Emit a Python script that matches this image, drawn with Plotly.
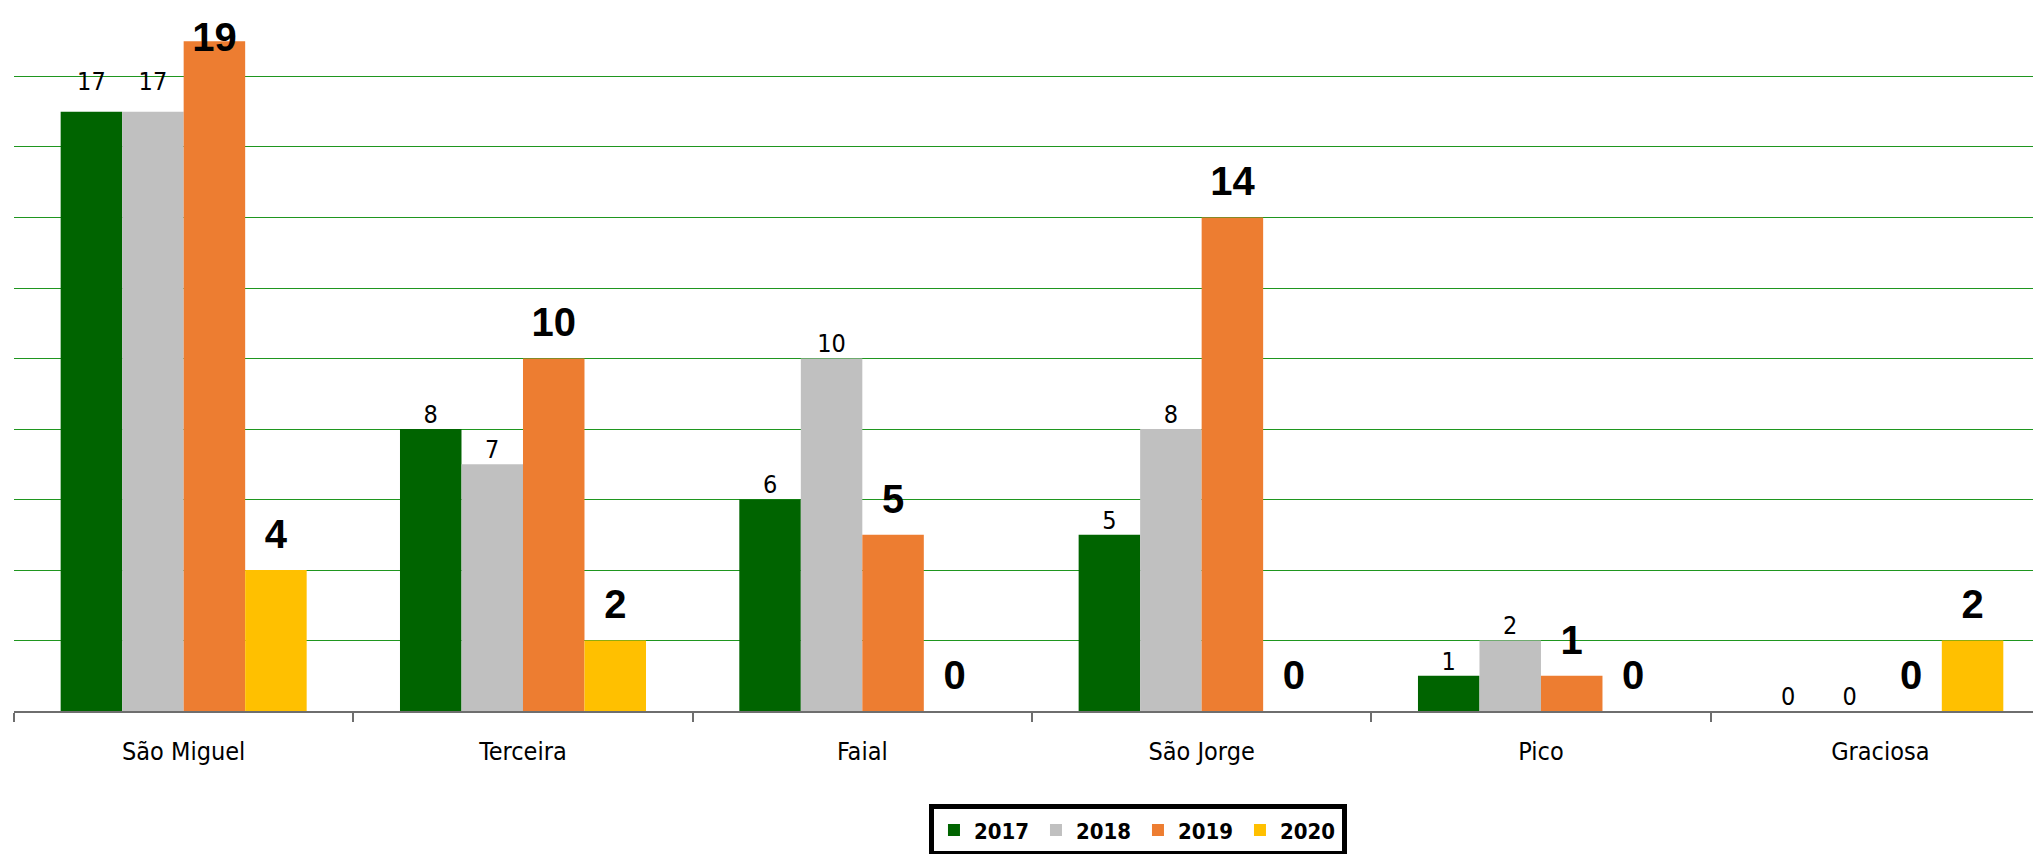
import plotly.graph_objects as go

islands = ["São Miguel", "Terceira", "Faial", "São Jorge", "Pico", "Graciosa"]
years = ["2017", "2018", "2019", "2020"]
v2017 = [17, 8, 6, 5, 1, 0]
v2018 = [17, 7, 10, 8, 2, 0]
v2019 = [19, 10, 5, 14, 1, 0]
v2020 = [4, 2, 0, 0, 0, 2]
values = [v2017, v2018, v2019, v2020]
colors = ["#006400", "#c0c0c0", "#ed7d31", "#ffc000"]
grid_ticks = [2, 4, 6, 8, 10, 12, 14, 16, 18]

NARROW = "DejaVu Sans Condensed, Liberation Sans Narrow, sans-serif"
BOLD = "Liberation Sans, Arial, sans-serif"

fig = go.Figure()
for yr, vals, col in zip(years, values, colors):
    fig.add_trace(go.Bar(
        x=islands, y=vals, name=yr, marker=dict(color=col, line=dict(width=0)),
        offsetgroup=yr, hoverinfo="skip",
    ))

# data labels aligned to bars through grouped scatter traces
label_sizes = {
    "2017": [23, 0, 0, 0, 0, 0],
    "2018": [23, 0, 0, 0, 0, 0],
    "2019": [18] * 6,
    "2020": [18] * 6,
}
for i, (yr, vals) in enumerate(zip(years, values)):
    bold = i >= 2
    pos = ["top center"] * len(vals)
    if yr == "2019":
        pos[0] = "middle center"
    fig.add_trace(go.Scatter(
        x=islands, y=vals, mode="markers+text", text=[str(v) for v in vals],
        textposition=pos, offsetgroup=yr, showlegend=False, hoverinfo="skip",
        marker=dict(size=label_sizes[yr], opacity=0, color="white"),
        textfont=dict(family=BOLD if bold else NARROW, size=40 if bold else 25,
                      color="black", weight="bold" if bold else "normal"),
        cliponaxis=False,
    ))

fig.update_layout(
    width=2033, height=854,
    barmode="group", bargap=0.275, bargroupgap=0,
    scattermode="group", scattergap=0.275,
    plot_bgcolor="white", paper_bgcolor="white",
    margin=dict(l=14, r=0, t=0, b=143, autoexpand=False),
    showlegend=True,
    legend=dict(
        orientation="h", x=0.5567, xanchor="center", y=-0.131, yanchor="top",
        bordercolor="black", borderwidth=5, bgcolor="white",
        font=dict(family=NARROW, size=22, color="black", weight="bold"),
        entrywidth=57, itemclick=False, itemdoubleclick=False,
    ),
    xaxis=dict(
        range=[-0.5, 5.45], showline=True, linecolor="#6e6e6e", linewidth=1.5,
        ticks="outside", tickson="boundaries", ticklen=9, tickcolor="#6e6e6e",
        tickwidth=1.5, showgrid=False, ticklabelstandoff=17,
        tickfont=dict(family=NARROW, size=25, color="black"),
    ),
    yaxis=dict(
        range=[0, 20.17], tickvals=grid_ticks, showticklabels=False,
        showgrid=True, gridcolor="#1f961f", gridwidth=1.2, zeroline=False,
        showline=False, fixedrange=True,
    ),
)

fig.write_html("out.html", config={"displayModeBar": False},
               post_script="document.body.style.margin='0';")
